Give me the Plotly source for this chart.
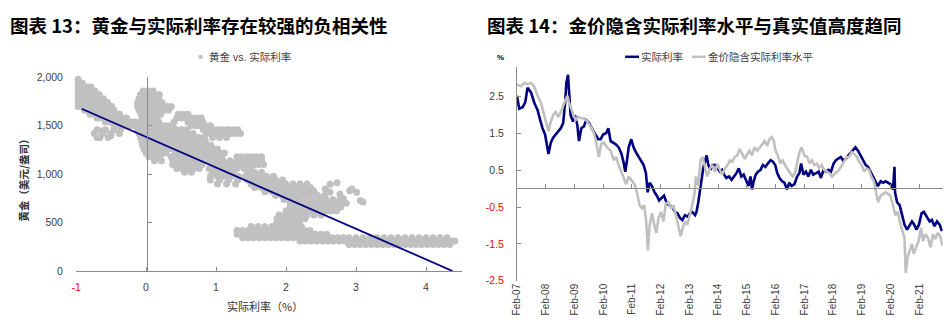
import plotly.graph_objects as go
import pandas as pd

W, H = 950, 334


def fx(px):
    return px / W


def fy(py):
    return 1 - py / H


gold_levels = [1980, 1940, 1900, 1860, 1820, 1780, 1740, 1700, 1660, 1620, 1580, 1540, 1500,
               1460, 1420, 1380, 1340, 1300, 1260, 1220, 1180, 1140, 1100, 1060, 1020, 980,
               940, 900, 860, 820, 780, 740, 700, 660, 620, 580, 540, 500, 460, 420, 380,
               345, 310, 275]
rate_rows = [
    [-1.03, -0.97],
    [-1.03, -0.97, -0.91],
    [-1.03, -0.97, -0.91, -0.85, -0.79],
    [-1.03, -0.97, -0.91, -0.85, -0.79, -0.73, -0.04, 0.03, 0.1],
    [-1.03, -0.97, -0.91, -0.85, -0.79, -0.73, -0.67, -0.08, -0.01, 0.06, 0.13, 0.19],
    [-1.03, -0.97, -0.91, -0.85, -0.79, -0.73, -0.67, -0.61, -0.1, -0.03, 0.04, 0.11, 0.18],
    [-1.03, -0.97, -0.91, -0.85, -0.79, -0.73, -0.67, -0.61, -0.55, -0.12, -0.05, 0.02, 0.09, 0.16, 0.23],
    [-0.97, -0.91, -0.85, -0.79, -0.73, -0.67, -0.61, -0.55, -0.49, -0.12, -0.05, 0.02, 0.09, 0.16, 0.23, 0.3, 0.36],
    [-0.88, -0.82, -0.76, -0.7, -0.64, -0.58, -0.52, -0.46, -0.1, -0.03, 0.04, 0.11, 0.18, 0.25, 0.32],
    [-0.8, -0.74, -0.68, -0.62, -0.56, -0.5, -0.44, -0.38, -0.07, 0.0, 0.07, 0.14, 0.21, 0.46, 0.53, 0.6],
    [-0.7, -0.64, -0.58, -0.52, -0.46, -0.4, -0.34, -0.28, -0.05, 0.02, 0.09, 0.16, 0.44, 0.51, 0.58, 0.65, 0.72, 0.79],
    [-0.58, -0.52, -0.46, -0.4, -0.34, -0.28, -0.22, -0.16, -0.1, -0.03, 0.04, 0.11, 0.18, 0.4, 0.6, 0.67, 0.74, 0.81],
    [-0.46, -0.4, -0.34, -0.28, -0.22, -0.16, -0.1, -0.03, 0.04, 0.11, 0.18, 0.25, 0.32, 0.38, 0.64, 0.71, 0.78, 0.85, 0.92],
    [-0.7, -0.58, -0.46, -0.12, -0.05, 0.02, 0.09, 0.16, 0.23, 0.3, 0.37, 0.44, 0.51, 0.58, 0.82, 0.89, 0.96, 1.03, 1.1, 1.17, 1.24, 1.31],
    [-0.74, -0.62, -0.5, -0.38, -0.1, -0.03, 0.04, 0.11, 0.18, 0.25, 0.32, 0.39, 0.46, 0.53, 0.6, 0.67, 0.86, 0.93, 1.0, 1.07, 1.14, 1.21, 1.28, 1.35],
    [-0.66, -0.54, -0.08, -0.01, 0.06, 0.13, 0.2, 0.27, 0.34, 0.41, 0.48, 0.55, 0.62, 0.69, 0.76, 0.83, 0.95, 1.05, 1.15],
    [-0.06, 0.01, 0.08, 0.15, 0.22, 0.29, 0.36, 0.43, 0.5, 0.57, 0.64, 0.71, 0.78, 0.85],
    [-0.05, 0.02, 0.09, 0.16, 0.23, 0.3, 0.37, 0.44, 0.51, 0.58, 0.65, 0.72, 0.79, 0.86, 0.93],
    [-0.03, 0.04, 0.11, 0.18, 0.25, 0.32, 0.39, 0.46, 0.53, 0.6, 0.67, 0.74, 0.81, 0.88, 0.95, 1.02],
    [0.0, 0.07, 0.14, 0.21, 0.28, 0.42, 0.49, 0.56, 0.63, 0.7, 0.77, 0.84, 0.91, 0.98, 1.05, 1.12],
    [0.04, 0.12, 0.2, 0.36, 0.44, 0.52, 0.6, 0.68, 0.76, 0.84, 0.92, 1.0, 1.08, 1.3, 1.37, 1.44, 1.51, 1.58, 1.65],
    [0.12, 0.22, 0.38, 0.45, 0.52, 0.59, 0.66, 0.73, 0.8, 0.9, 1.0, 1.1, 1.2, 1.3, 1.37, 1.44, 1.51, 1.58, 1.65],
    [0.38, 0.45, 0.52, 0.59, 0.66, 0.73, 0.8, 0.95, 1.05, 1.15, 1.25, 1.33, 1.4, 1.47, 1.54, 1.61, 1.68],
    [0.44, 0.52, 0.6, 0.68, 0.76, 0.9, 1.0, 1.1, 1.2, 1.3, 1.4, 1.5],
    [0.55, 0.65, 0.95, 1.05, 1.15, 1.25, 1.45, 1.55, 1.65],
    [0.92, 1.02, 1.12, 1.22, 1.32, 1.42, 1.52, 1.62, 1.72, 1.82],
    [0.92, 1.05, 1.18, 1.31, 1.45, 1.55, 1.65, 1.75, 1.85, 1.95],
    [1.02, 1.15, 1.28, 1.5, 1.6, 1.7, 1.8, 1.9, 2.0, 2.1, 2.2, 2.3],
    [1.55, 1.65, 1.75, 1.85, 1.95, 2.05, 2.15, 2.25, 2.35],
    [1.7, 1.8, 1.9, 2.0, 2.1, 2.2, 2.3, 2.4],
    [1.85, 1.95, 2.05, 2.15, 2.25, 2.35, 2.45, 2.55],
    [1.97, 2.07, 2.17, 2.27, 2.37, 2.47, 2.57, 2.67, 2.77],
    [2.06, 2.14, 2.22, 2.3, 2.38, 2.46, 2.54, 2.62, 2.7, 2.78, 2.86],
    [2.06, 2.14, 2.22, 2.3, 2.38, 2.46, 2.54, 2.62, 2.7, 2.78],
    [2.0, 2.08, 2.16, 2.24, 2.32, 2.4, 2.48, 2.56, 2.64, 2.72],
    [1.9, 1.98, 2.06, 2.14, 2.22, 2.3, 2.4, 2.5],
    [1.87, 1.95, 2.03, 2.11, 2.19, 2.27],
    [1.87, 1.95, 2.03, 2.11, 2.19],
    [1.5, 1.6, 1.7, 1.8, 1.9, 1.98, 2.06, 2.14, 2.22],
    [1.3, 1.38, 1.46, 1.54, 1.62, 1.7, 1.78, 1.86, 1.94, 2.02, 2.1, 2.18, 2.26, 2.34],
    [1.3, 1.38, 1.46, 1.54, 1.62, 1.7, 1.78, 1.86, 1.94, 2.02, 2.1, 2.18, 2.26, 2.34, 2.42, 2.5, 2.58],
    [1.38, 1.46, 1.54, 1.62, 1.7, 1.78, 1.86, 1.94, 2.02, 2.1, 2.18, 2.26, 2.34, 2.42, 2.5, 2.58, 2.66,
     2.74, 2.82, 2.9, 3.0, 3.1, 3.2, 3.3, 3.4, 3.5, 3.6, 3.7, 3.8, 3.9, 4.0, 4.1, 4.2, 4.3],
    [2.2, 2.28, 2.36, 2.44, 2.52, 2.6, 2.68, 2.76, 2.84, 2.92, 3.0, 3.08, 3.16, 3.24, 3.32, 3.4, 3.48,
     3.56, 3.64, 3.72, 3.8, 3.88, 3.96, 4.04, 4.12, 4.2, 4.28, 4.36, 4.41],
    [2.9, 2.98, 3.06, 3.14, 3.22, 3.3, 3.38, 3.46, 3.54, 3.62, 3.7, 3.78, 3.86, 3.94, 4.02, 4.1, 4.18, 4.26, 4.34],
]
stray_rate = [2.3, 2.39, 2.56, 2.63, 2.73, 2.63, 2.77, 2.82, 2.91, 2.94, 3.01, 3.06, 3.1, -0.62, -0.5, -0.36, -0.7]
stray_gold = [863, 830, 847, 896, 913, 813, 797, 747, 830, 847, 813, 730, 714, 1450, 1400, 1470, 1380]

trend_intercept = 1385
trend_slope = -316
trend_x = [-0.92, 4.38]

left_xticks = [-1, 0, 1, 2, 3, 4]
left_yticks = [0, 500, 1000, 1500, 2000]
left_yticktext = ["0", "500", "1,000", "1,500", "2,000"]

# ---------------- Right chart data: real rate vs gold-implied real rate -------------
real_t = [2007.08, 2007.16, 2007.28, 2007.37, 2007.45, 2007.57, 2007.68, 2007.80, 2007.89, 2007.97,
          2008.06, 2008.12, 2008.18, 2008.26, 2008.34, 2008.43, 2008.52, 2008.61, 2008.69, 2008.76, 2008.80, 2008.86, 2008.89, 2008.95,
          2009.03, 2009.10, 2009.18, 2009.24, 2009.32, 2009.41, 2009.49, 2009.59, 2009.68, 2009.79, 2009.91, 2009.99,
          2010.08, 2010.19, 2010.26, 2010.34, 2010.43, 2010.51, 2010.62, 2010.72, 2010.80, 2010.85, 2010.91, 2010.97,
          2011.06, 2011.14, 2011.22, 2011.32, 2011.41, 2011.49, 2011.57, 2011.63, 2011.70, 2011.78, 2011.87, 2011.95,
          2012.03, 2012.12, 2012.20, 2012.30, 2012.39, 2012.49, 2012.58, 2012.67, 2012.76, 2012.84, 2012.93,
          2013.02, 2013.10, 2013.18, 2013.28, 2013.33, 2013.39, 2013.45, 2013.51, 2013.57, 2013.62, 2013.68, 2013.74, 2013.82, 2013.89, 2013.97,
          2014.06, 2014.14, 2014.22, 2014.29, 2014.37, 2014.46, 2014.55, 2014.64, 2014.72, 2014.80, 2014.89, 2014.97,
          2015.06, 2015.14, 2015.21, 2015.26, 2015.32, 2015.39, 2015.47, 2015.56, 2015.64, 2015.73, 2015.81, 2015.91, 2015.99,
          2016.07, 2016.14, 2016.22, 2016.31, 2016.39, 2016.48, 2016.56, 2016.64, 2016.74, 2016.83, 2016.91, 2016.97,
          2017.05, 2017.14, 2017.22, 2017.31, 2017.39, 2017.49, 2017.58, 2017.66, 2017.75, 2017.83, 2017.92,
          2018.01, 2018.10, 2018.18, 2018.26, 2018.35, 2018.43, 2018.53, 2018.61, 2018.70, 2018.79, 2018.86, 2018.95,
          2019.04, 2019.14, 2019.22, 2019.30, 2019.39, 2019.48, 2019.56, 2019.64, 2019.74, 2019.83, 2019.91, 2019.99,
          2020.08, 2020.17, 2020.22, 2020.24, 2020.31, 2020.40, 2020.48, 2020.57, 2020.66, 2020.75, 2020.83, 2020.91, 2020.98,
          2021.07, 2021.16, 2021.24, 2021.35, 2021.44, 2021.52, 2021.61, 2021.70, 2021.79, 2021.87]
real_v = [2.52, 2.17, 2.21, 2.34, 2.74, 2.61, 2.34, 2.13, 1.86, 1.64,
          1.47, 1.25, 0.94, 1.25, 1.38, 1.47, 1.56, 1.64, 1.78, 2.34, 2.87, 3.09, 2.69, 1.99,
          1.82, 1.99, 1.73, 1.29, 1.64, 1.69, 1.86, 1.78, 1.64, 1.51, 1.34, 1.34,
          1.47, 1.51, 1.64, 1.29, 1.25, 1.21, 1.12, 0.94, 0.68, 0.46, 0.77, 1.12,
          1.34, 1.12, 0.99, 0.86, 0.77, 0.64, 0.42, -0.10, 0.16, 0.07, -0.10, -0.19,
          -0.32, -0.24, -0.19, -0.41, -0.45, -0.50, -0.63, -0.67, -0.80, -0.85, -0.72,
          -0.76, -0.67, -0.63, -0.72, -0.63, -0.37, -0.02, 0.33, 0.59, 0.73, 0.90, 0.64, 0.51, 0.64, 0.64,
          0.55, 0.46, 0.51, 0.38, 0.29, 0.33, 0.24, 0.33, 0.42, 0.55, 0.33, 0.38,
          0.24, 0.07, 0.33, -0.02, 0.20, 0.38, 0.46, 0.51, 0.64, 0.59, 0.68, 0.77, 0.73,
          0.64, 0.42, 0.29, 0.20, 0.16, -0.02, 0.16, 0.07, 0.12, 0.33, 0.42, 0.68,
          0.38, 0.46, 0.33, 0.51, 0.38, 0.42, 0.46, 0.29, 0.51, 0.46, 0.51,
          0.46, 0.68, 0.77, 0.81, 0.86, 0.77, 0.81, 0.90, 0.99, 1.08, 1.12, 1.03,
          0.90, 0.77, 0.64, 0.59, 0.46, 0.33, 0.20, 0.07, 0.20, 0.16, 0.20, 0.16,
          0.12, -0.02, 0.59, -0.10, -0.37, -0.45, -0.67, -0.98, -1.11, -0.98, -0.89, -0.98, -1.11,
          -0.98, -0.67, -0.63, -0.76, -0.89, -0.85, -1.02, -0.89, -0.98, -1.15]

impl_t = [2007.08, 2007.22, 2007.34, 2007.45, 2007.57, 2007.68, 2007.80, 2007.91,
          2008.03, 2008.12, 2008.18, 2008.26, 2008.34, 2008.43, 2008.52, 2008.61, 2008.69, 2008.76, 2008.84, 2008.89, 2008.97,
          2009.04, 2009.12, 2009.22, 2009.30, 2009.41, 2009.53, 2009.64, 2009.76, 2009.85, 2009.93,
          2010.01, 2010.10, 2010.22, 2010.34, 2010.45, 2010.53, 2010.62, 2010.72, 2010.80, 2010.88, 2010.97,
          2011.09, 2011.17, 2011.26, 2011.35, 2011.43, 2011.51, 2011.58, 2011.64, 2011.70, 2011.78, 2011.86, 2011.93,
          2012.01, 2012.09, 2012.18, 2012.26, 2012.35, 2012.45, 2012.53, 2012.61, 2012.70, 2012.78, 2012.85, 2012.93,
          2013.01, 2013.10, 2013.18, 2013.25, 2013.31, 2013.39, 2013.47, 2013.54, 2013.62, 2013.70, 2013.80, 2013.88, 2013.97,
          2014.06, 2014.14, 2014.22, 2014.32, 2014.41, 2014.49, 2014.58, 2014.66, 2014.75, 2014.83, 2014.91,
          2015.01, 2015.10, 2015.18, 2015.26, 2015.35, 2015.45, 2015.53, 2015.62, 2015.70, 2015.79, 2015.87, 2015.95,
          2016.02, 2016.08, 2016.16, 2016.25, 2016.33, 2016.41, 2016.51, 2016.59, 2016.68, 2016.76, 2016.85, 2016.93, 2016.99,
          2017.08, 2017.18, 2017.26, 2017.34, 2017.43, 2017.52, 2017.60, 2017.69, 2017.77, 2017.87, 2017.95,
          2018.04, 2018.12, 2018.21, 2018.29, 2018.39, 2018.47, 2018.56, 2018.64, 2018.73, 2018.81, 2018.91, 2018.99,
          2019.08, 2019.16, 2019.25, 2019.33, 2019.41, 2019.50, 2019.58, 2019.65, 2019.74, 2019.83, 2019.91,
          2020.01, 2020.08, 2020.17, 2020.25, 2020.34, 2020.40, 2020.48, 2020.57, 2020.61, 2020.68, 2020.75, 2020.83, 2020.89, 2020.98,
          2021.06, 2021.14, 2021.21, 2021.29, 2021.38, 2021.47, 2021.56, 2021.64, 2021.72, 2021.81, 2021.89]
impl_v = [2.83, 2.78, 2.87, 2.83, 2.87, 2.78, 2.52, 2.34,
          1.99, 1.69, 1.56, 1.82, 1.99, 2.08, 1.95, 2.08, 2.26, 2.39, 2.52, 2.34, 2.17,
          2.04, 1.86, 1.95, 1.91, 1.91, 1.82, 1.69, 1.51, 1.21, 0.86,
          1.21, 1.25, 1.12, 1.03, 0.77, 0.86, 0.64, 0.46, 0.29, 0.12, 0.33,
          0.20, 0.12, -0.10, -0.45, -0.54, -0.45, -0.89, -1.68, -0.98, -0.67, -0.98, -1.20,
          -0.80, -0.63, -0.89, -0.41, -0.37, -0.54, -0.45, -0.72, -1.07, -1.29, -1.07, -0.89,
          -0.98, -0.72, -0.45, -0.19, 0.33, 0.07, 0.77, 0.86, 0.55, 0.33, 0.55, 0.64, 0.46,
          0.68, 0.51, 0.38, 0.55, 0.64, 0.77, 0.73, 0.86, 0.90, 1.08, 0.94,
          0.81, 0.94, 1.03, 0.90, 1.12, 1.03, 1.12, 1.21, 1.29, 1.16, 1.34, 1.40,
          1.29, 1.03, 0.90, 0.68, 0.77, 0.64, 0.51, 0.42, 0.33, 0.42, 0.77, 1.03, 1.12,
          0.90, 0.86, 0.68, 0.77, 0.64, 0.68, 0.55, 0.64, 0.51, 0.46, 0.42,
          0.33, 0.38, 0.46, 0.51, 0.64, 0.73, 0.86, 0.86, 0.99, 0.94, 0.86, 0.73,
          0.64, 0.46, 0.55, 0.51, 0.33, 0.20, -0.10, -0.37, -0.19, -0.15, -0.10,
          -0.15, -0.19, -0.45, -0.72, -0.63, -0.89, -1.11, -1.33, -2.29, -1.85, -1.68, -1.50, -1.77, -1.59,
          -1.42, -1.07, -1.42, -1.24, -1.33, -1.59, -1.24, -1.37, -1.20, -1.29, -1.55]

tick_years = list(range(2007, 2022))
right_yticks = [2.5, 1.5, 0.5, -0.5, -1.5, -2.5]


def to_dates(ts):
    out = []
    for t in ts:
        y = int(t)
        out.append(pd.Timestamp(y, 1, 1) + pd.Timedelta(days=(t - y) * 365.25))
    return out


# ---------------- styling ----------------
AXC = "#8c8c8c"
TXT = "#404040"
RED = "#ff0000"
GREY = "#c0c0c0"
NAVY = "#000080"
FONT = "Liberation Sans, Noto Sans CJK SC, sans-serif"
CJK = "Noto Sans CJK SC, sans-serif"


def red_if_neg(v, label):
    return f'<span style="color:{RED}">{label}</span>' if v < 0 else label


sx, sy = [], []
for g, row in zip(gold_levels, rate_rows):
    for r in row:
        sx.append(r)
        sy.append(g)
sx += stray_rate
sy += stray_gold

fig = go.Figure()

fig.add_trace(go.Scatter(x=sx, y=sy, mode="markers", xaxis="x", yaxis="y",
                         marker=dict(size=7, color=GREY, line=dict(width=0)),
                         cliponaxis=False, showlegend=False, hoverinfo="skip"))
fig.add_trace(go.Scatter(x=trend_x, y=[trend_intercept + trend_slope * v for v in trend_x],
                         mode="lines", xaxis="x", yaxis="y3",
                         line=dict(color=NAVY, width=1.8), showlegend=False))

fig.add_trace(go.Scatter(x=to_dates(real_t), y=real_v, mode="lines", xaxis="x2", yaxis="y2",
                         line=dict(color=NAVY, width=2.6), name="实际利率", showlegend=False))
fig.add_trace(go.Scatter(x=to_dates(impl_t), y=impl_v, mode="lines", xaxis="x4", yaxis="y2",
                         line=dict(color=GREY, width=2.6), name="金价隐含实际利率水平", showlegend=False))

date_range = ["2007-02-01", "2021-11-25"]
tick_dates = [f"{y}-02-01" for y in tick_years]
tick_labels = [f"Feb-{y % 100:02d}" for y in tick_years]

left_dom_x = [fx(70.5), fx(459.3)]
left_dom_y = [fy(275), fy(74)]
right_dom_x = [fx(514.3), fx(942.7)]
right_dom_y = [fy(285), fy(63.3)]

fig.update_layout(
    width=W, height=H, margin=dict(l=0, r=0, t=0, b=0),
    paper_bgcolor="white", plot_bgcolor="rgba(0,0,0,0)",
    font=dict(family=FONT, size=10, color=TXT),
    showlegend=False,
    xaxis=dict(domain=left_dom_x, range=[-1.0, 4.52], anchor="y",
               showline=True, linecolor=AXC, linewidth=1, ticks="inside", ticklen=4,
               tickcolor=AXC, tickvals=left_xticks,
               ticktext=[red_if_neg(v, str(v)) for v in left_xticks],
               showgrid=False, zeroline=False, ticklabelstandoff=6,
               tickfont=dict(size=10.5, color=TXT)),
    yaxis=dict(domain=left_dom_y, range=[0, 2000], anchor="x",
               showline=False, ticks="outside", ticklen=10, tickcolor="rgba(0,0,0,0)",
               tickvals=left_yticks, ticktext=left_yticktext,
               showgrid=False, zeroline=False, tickfont=dict(size=10.5, color=TXT)),
    yaxis3=dict(range=[0, 2000], overlaying="y", anchor="free", position=fx(141.7),
                showline=True, linecolor=AXC, linewidth=1, ticks="inside", ticklen=4,
                tickcolor=AXC, tickvals=left_yticks, showticklabels=False,
                showgrid=False, zeroline=False),
    xaxis2=dict(domain=right_dom_x, range=date_range, anchor="y2",
                showline=False, ticks="", tickvals=tick_dates, ticktext=tick_labels,
                tickangle=-90, showgrid=False, zeroline=False,
                tickfont=dict(size=10, color=TXT)),
    xaxis4=dict(range=date_range, overlaying="x2", anchor="free", position=fy(189.3),
                showline=True, linecolor=AXC, linewidth=1, ticks="inside", ticklen=4,
                tickcolor=AXC, tickvals=tick_dates, showticklabels=False,
                showgrid=False, zeroline=False),
    yaxis2=dict(domain=right_dom_y, range=[-2.5, 3.3], anchor="x2",
                showline=True, linecolor=AXC, linewidth=1, ticks="inside", ticklen=4,
                tickcolor=AXC, tickvals=right_yticks,
                ticktext=[red_if_neg(v, f"{v:.1f}") for v in right_yticks],
                showgrid=False, zeroline=False, ticklabelstandoff=10,
                tickfont=dict(size=10.5, color=TXT)),
)

ann = []
ann.append(dict(x=fx(2), y=fy(20), xref="paper", yref="paper", xanchor="left", yanchor="middle",
                text="<b>图表 13：黄金与实际利率存在较强的负相关性</b>", showarrow=False,
                font=dict(family=CJK, size=18.5, color="#000000")))
ann.append(dict(x=fx(482), y=fy(20), xref="paper", yref="paper", xanchor="left", yanchor="middle",
                text="<b>图表 14：金价隐含实际利率水平与真实值高度趋同</b>", showarrow=False,
                font=dict(family=CJK, size=18.5, color="#000000")))
# left legend
ann.append(dict(x=fx(202), y=fy(52.7), xref="paper", yref="paper", xanchor="left", yanchor="middle",
                text="黄金 vs. 实际利率", showarrow=False, font=dict(family=FONT, size=10.5, color=TXT)))
# left axis titles
ann.append(dict(x=fx(18), y=fy(178), xref="paper", yref="paper", xanchor="center", yanchor="middle",
                text="<b>黄金（美元/盎司）</b>", textangle=-90, showarrow=False,
                font=dict(family=CJK, size=10.5, color="#333333")))
ann.append(dict(x=fx(260.5), y=fy(311.5), xref="paper", yref="paper", xanchor="center", yanchor="middle",
                text="实际利率（%）", showarrow=False, font=dict(family=CJK, size=11, color="#333333")))
# right legend
ann.append(dict(x=fx(637), y=fy(52.7), xref="paper", yref="paper", xanchor="left", yanchor="middle",
                text="实际利率", showarrow=False, font=dict(family=FONT, size=10.5, color=TXT)))
ann.append(dict(x=fx(704), y=fy(52.7), xref="paper", yref="paper", xanchor="left", yanchor="middle",
                text="金价隐含实际利率水平", showarrow=False, font=dict(family=FONT, size=10.5, color=TXT)))
ann.append(dict(x=fx(497.5), y=fy(53), xref="paper", yref="paper", xanchor="center", yanchor="middle",
                text="<b>%</b>", showarrow=False, font=dict(family=FONT, size=8, color="#000000")))
fig.update_layout(annotations=ann)

shapes = [
    dict(type="circle", xref="paper", yref="paper", x0=fx(193.5), x1=fx(198), y0=fy(55), y1=fy(50.5),
         fillcolor=GREY, line=dict(width=0)),
    dict(type="line", xref="paper", yref="paper", x0=fx(623), x1=fx(637), y0=fy(52.7), y1=fy(52.7),
         line=dict(color=NAVY, width=2.5)),
    dict(type="line", xref="paper", yref="paper", x0=fx(690.5), x1=fx(704), y0=fy(52.7), y1=fy(52.7),
         line=dict(color=GREY, width=2.5)),
]
fig.update_layout(shapes=shapes)

fig.write_html("out.html", post_script="document.body.style.margin='0';")
